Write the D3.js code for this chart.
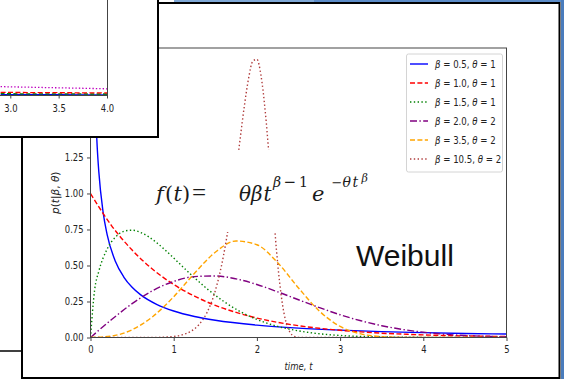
<!DOCTYPE html>
<html>
<head>
<meta charset="utf-8">
<script src="https://cdn.jsdelivr.net/npm/d3@7"></script>
<style>
  body { margin: 0; background: #fff; }
  svg { display: block; }
</style>
</head>
<body>
<div id="chart"></div>
<script>
const tBlue = [0.02, 0.04, 0.06, 0.08, 0.1, 0.15, 0.2, 0.3, 0.4, 0.5, 0.6, 0.8, 1, 1.25, 1.5, 2, 2.5, 3, 3.5, 4, 4.5, 5];
const pBlue = [3.07, 2.05, 1.6, 1.33, 1.15, 0.876, 0.715, 0.528, 0.42, 0.349, 0.298, 0.229, 0.184, 0.146, 0.12, 0.086, 0.065, 0.051, 0.041, 0.034, 0.028, 0.024];

const tQuarter = [0, 0.25, 0.5, 0.75, 1, 1.25, 1.5, 1.75, 2, 2.25, 2.5, 2.75, 3, 3.25, 3.5, 3.75, 4, 4.25, 4.5, 4.75, 5];
const pRed = [1, 0.779, 0.607, 0.472, 0.368, 0.287, 0.223, 0.174, 0.135, 0.105, 0.082, 0.064, 0.05, 0.039, 0.03, 0.0235, 0.018, 0.0143, 0.011, 0.0087, 0.0067];
const pPurple = [0, 0.123, 0.235, 0.326, 0.389, 0.423, 0.427, 0.407, 0.368, 0.317, 0.262, 0.208, 0.158, 0.116, 0.082, 0.056, 0.037, 0.023, 0.014, 0.008, 0.005];
const pOrange = [0, 0.0097, 0.054, 0.146, 0.283, 0.446, 0.592, 0.67, 0.644, 0.519, 0.344, 0.184, 0.077, 0.025, 0.006, 0.001, 0, 0, 0, 0, 0];

const tGreen = [0, 0.05, 0.1, 0.2, 0.3, 0.4, 0.5, 0.6, 0.7, 0.8, 0.9, 1, 1.2, 1.4, 1.6, 1.8, 2, 2.25, 2.5, 2.75, 3, 3.5, 4, 4.5, 5];
const pGreen = [0, 0.332, 0.46, 0.614, 0.697, 0.737, 0.745, 0.73, 0.699, 0.656, 0.606, 0.552, 0.441, 0.339, 0.251, 0.18, 0.125, 0.077, 0.046, 0.026, 0.014, 0.004, 0.001, 0, 0];

const tBrown = [0, 0.8, 0.9, 1, 1.1, 1.2, 1.3, 1.4, 1.5, 1.55, 1.6, 1.65, 1.7, 1.75, 1.8, 1.85, 1.9, 1.95, 2, 2.05, 2.1, 2.15, 2.2, 2.25, 2.3, 2.35, 2.4, 2.45, 2.5, 2.6, 5];
const pBrown = [0, 0.001, 0.003, 0.007, 0.018, 0.041, 0.087, 0.173, 0.325, 0.435, 0.573, 0.739, 0.935, 1.154, 1.386, 1.611, 1.799, 1.918, 1.931, 1.816, 1.572, 1.231, 0.855, 0.513, 0.259, 0.106, 0.034, 0.008, 0.001, 0, 0];

const betas = ['0.5', '1.0', '1.5', '2.0', '3.5', '10.5'];
const thetas = ['1', '1', '1', '2', '2', '2'];
const xTicks = [0, 1, 2, 3, 4, 5];
const yTicks = [0, 0.25, 0.5, 0.75, 1, 1.25, 1.5, 1.75, 2];

// the half hidden window behind, top left
const tInset = [2.9, 3.2, 3.5, 3.8, 4.0];
const pInsetA = [0.058, 0.054, 0.05, 0.046, 0.043];
const pInsetB = [0.018, 0.017, 0.016, 0.015, 0.014];
const pInsetC = [0.009, 0.008, 0.008, 0.007, 0.007];
const pInsetD = [0.002, 0.002, 0.002, 0.001, 0.001];
const insetTicks = [3.0, 3.5, 4.0];

const series = [
  { t: tBlue, p: pBlue, color: 'blue', dash: null },
  { t: tQuarter, p: pRed, color: 'red', dash: '5,2.4' },
  { t: tGreen, p: pGreen, color: 'green', dash: '1.4,2.4' },
  { t: tQuarter, p: pPurple, color: 'purple', dash: '7,2.4,1.4,2.4' },
  { t: tQuarter, p: pOrange, color: 'orange', dash: '5,2.4' },
  { t: tBrown, p: pBrown, color: '#b03c3c', dash: '1.4,2.4' }
];

const width = 564, height = 379;
const textColor = '#222';
const fs = '10px';

const svg = d3.select('#chart').append('svg')
  .attr('width', width)
  .attr('height', height);

const x = d3.scaleLinear().domain([0, 5]).range([90.5, 506.5]);
const y = d3.scaleLinear().domain([0, 2.01]).range([337.5, 48]);

// squeeze single texts a bit, the screenshot is narrower than the font
function squeeze(sel, k) {
  sel.each(function () {
    const w = this.getComputedTextLength();
    d3.select(this).attr('textLength', w * k).attr('lengthAdjust', 'spacingAndGlyphs');
  });
}

svg.append('clipPath').attr('id', 'plot')
  .append('rect')
  .attr('x', x(0)).attr('y', y(2.01))
  .attr('width', x(5) - x(0)).attr('height', y(0) - y(2.01));

const line = d3.line()
  .x(d => x(d[0]))
  .y(d => y(d[1]))
  .curve(d3.curveMonotoneX);

svg.append('g')
  .attr('clip-path', 'url(#plot)')
  .selectAll('path')
  .data(series)
  .join('path')
  .attr('d', s => line(s.t.map((t, i) => [t, s.p[i]])))
  .attr('fill', 'none')
  .attr('stroke', s => s.color)
  .attr('stroke-width', 1.4)
  .attr('stroke-dasharray', s => s.dash);

// axes
const xAxis = svg.append('g')
  .attr('transform', `translate(0,${y(0)})`)
  .call(d3.axisBottom(x).tickValues(xTicks).tickFormat(d3.format('d')).tickSize(3.5).tickPadding(5.2).tickSizeOuter(0));
const yAxis = svg.append('g')
  .attr('transform', `translate(${x(0)},0)`)
  .call(d3.axisLeft(y).tickValues(yTicks).tickFormat(d3.format('.2f')).tickSize(3.5).tickPadding(3.5).tickSizeOuter(0));

[xAxis, yAxis].forEach(g => {
  g.select('.domain').remove();
  g.selectAll('line').attr('stroke', '#444');
  g.selectAll('text')
    .attr('fill', textColor)
    .style('font-family', 'DejaVu Sans')
    .style('font-size', fs);
  squeeze(g.selectAll('text'), 0.84);
});

svg.append('rect')
  .attr('x', x(0)).attr('y', y(2.01))
  .attr('width', x(5) - x(0)).attr('height', y(0) - y(2.01))
  .attr('fill', 'none')
  .attr('stroke', '#444')
  .attr('stroke-width', 1);

const xLabel = svg.append('text')
  .attr('x', (x(0) + x(5)) / 2)
  .attr('y', 369.5)
  .attr('text-anchor', 'middle')
  .attr('fill', textColor)
  .style('font-family', 'DejaVu Sans')
  .style('font-size', fs)
  .style('font-style', 'italic')
  .text('time, t');
squeeze(xLabel, 0.85);

const yLabel = svg.append('text')
  .attr('transform', `translate(58.5,${(y(0) + y(2.01)) / 2}) rotate(-90)`)
  .attr('text-anchor', 'middle')
  .attr('fill', textColor)
  .style('font-family', 'DejaVu Sans')
  .style('font-size', '10.5px');
yLabel.append('tspan').style('font-style', 'italic').text('p');
yLabel.append('tspan').text('(');
yLabel.append('tspan').style('font-style', 'italic').text('t');
yLabel.append('tspan').text('|');
yLabel.append('tspan').style('font-style', 'italic').text('β');
yLabel.append('tspan').text(', ');
yLabel.append('tspan').style('font-style', 'italic').text('θ');
yLabel.append('tspan').text(')');

// legend
const legend = svg.append('g');
legend.append('rect')
  .attr('x', 406.5).attr('y', 54)
  .attr('width', 96).attr('height', 118)
  .attr('rx', 2)
  .attr('fill', 'white').attr('fill-opacity', 0.8)
  .attr('stroke', '#d4d4d4');

const rows = legend.selectAll('g.row')
  .data(series)
  .join('g')
  .attr('class', 'row')
  .attr('transform', (s, i) => `translate(0,${64 + i * 19})`);

rows.append('line')
  .attr('x1', 410).attr('x2', 428)
  .attr('stroke', s => s.color)
  .attr('stroke-width', 1.4)
  .attr('stroke-dasharray', s => s.dash);

rows.each(function (s, i) {
  const t = d3.select(this).append('text')
    .attr('transform', 'translate(435,3.6) scale(0.86,1)')
    .attr('fill', textColor)
    .style('font-family', 'DejaVu Sans')
    .style('font-size', fs);
  t.append('tspan').style('font-style', 'italic').text('β');
  t.append('tspan').text(` = ${betas[i]}, `);
  t.append('tspan').style('font-style', 'italic').text('θ');
  t.append('tspan').text(` = ${thetas[i]}`);
});

// pasted formula picture (white box over the curves)
svg.append('rect')
  .attr('x', 148).attr('y', 150)
  .attr('width', 244).attr('height', 82)
  .attr('fill', 'white');

const formula = svg.append('text')
  .attr('fill', '#1a1a1a')
  .style('font-family', 'DejaVu Serif');
const piece = (txt, px, py, size, upright, family) => formula.append('tspan')
  .attr('x', px).attr('y', py)
  .style('font-size', size + 'px')
  .style('font-style', upright ? 'normal' : 'italic')
  .style('font-family', family || null)
  .text(txt);
piece('f', 156, 201, 21);
piece('(', 165, 201, 21, true);
piece('t', 173.5, 201, 21);
piece(')', 182, 201, 21, true);
piece('=', 192, 201, 25, true, 'Liberation Serif');
piece('θ', 239, 201, 20);
piece('β', 251, 201, 20);
piece('t', 263.5, 201, 20);
piece('β', 273, 187, 14);
piece('−', 283.5, 187, 15, true, 'DejaVu Sans');
piece('1', 299, 187, 14, true);
piece('e', 312, 201, 21);
piece('−', 331.5, 187, 13, true, 'DejaVu Sans');
piece('θ', 342.5, 187, 14);
piece('t', 352.5, 187, 14);
piece('β', 361.5, 182, 11);

svg.append('text')
  .attr('x', 356).attr('y', 266)
  .attr('fill', '#111')
  .style('font-family', 'Liberation Sans')
  .style('font-size', '30px')
  .text('Weibull');

// slide frame
svg.append('rect')
  .attr('x', 22).attr('y', 3)
  .attr('width', 537.5).attr('height', 375)
  .attr('fill', 'none')
  .attr('stroke', '#000')
  .attr('stroke-width', 2);

svg.append('line')
  .attr('x1', 0).attr('x2', 22)
  .attr('y1', 351).attr('y2', 351)
  .attr('stroke', '#000').attr('stroke-width', 1.5);

// other window on top, top left
const inset = svg.append('g');
inset.append('rect')
  .attr('x', -2).attr('y', -2)
  .attr('width', 160).attr('height', 139)
  .attr('fill', 'white')
  .attr('stroke', '#000')
  .attr('stroke-width', 2);

const xi = d3.scaleLinear().domain([3, 4]).range([10.3, 107]);
const yi = d3.scaleLinear().domain([0, 0.1]).range([95, 80.6]);
const insetLine = d3.line().x(d => xi(d[0])).y(d => yi(d[1]));
const insetSeries = [
  { p: pInsetD, color: 'blue', dash: null },
  { p: pInsetC, color: 'green', dash: '4,2.4' },
  { p: pInsetB, color: 'red', dash: '5,2.4' },
  { p: pInsetA, color: '#bf00bf', dash: '1.4,2' }
];
inset.selectAll('path.curve')
  .data(insetSeries)
  .join('path')
  .attr('class', 'curve')
  .attr('d', s => insetLine(tInset.map((t, i) => [t, s.p[i]])))
  .attr('fill', 'none')
  .attr('stroke', s => s.color)
  .attr('stroke-width', 1.3)
  .attr('stroke-dasharray', s => s.dash);

const ia = inset.append('g')
  .attr('transform', 'translate(0,95)')
  .call(d3.axisBottom(xi).tickValues(insetTicks).tickFormat(d3.format('.1f')).tickSize(3.5).tickPadding(6).tickSizeOuter(0));
ia.select('.domain').remove();
ia.selectAll('line').attr('stroke', '#444');
ia.selectAll('text')
  .attr('fill', textColor)
  .style('font-family', 'DejaVu Sans')
  .style('font-size', fs);
squeeze(ia.selectAll('text'), 0.84);

inset.append('path')
  .attr('d', 'M0,95.5H107.5V0')
  .attr('fill', 'none')
  .attr('stroke', '#444');

// window edges
svg.append('rect').attr('x', 174).attr('y', 0).attr('width', 140).attr('height', 2).attr('fill', '#7fa8d6');
svg.append('rect').attr('x', 314).attr('y', 0).attr('width', 250).attr('height', 2).attr('fill', '#5c8cc8');
svg.append('rect').attr('x', 561).attr('y', 0).attr('width', 3).attr('height', height).attr('fill', '#4a7cbc');
</script>
</body>
</html>
